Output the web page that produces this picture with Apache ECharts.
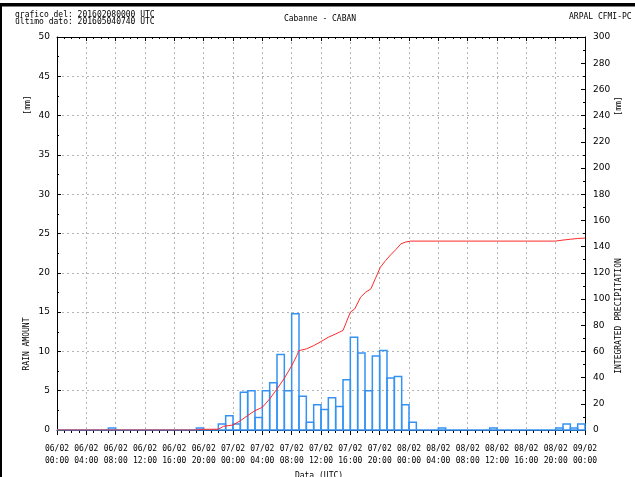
<!DOCTYPE html>
<html>
<head>
<meta charset="utf-8">
<script src="https://cdn.jsdelivr.net/npm/echarts@6/dist/echarts.min.js"></script>
<style>
html, body { margin: 0; padding: 0; background: #fff; }
#chart { width: 635px; height: 477px; }
</style>
</head>
<body>
<div id="chart"></div>
<script>
// hourly rain (mm), one value per hour starting 06/02 00:00
var rain = [
    0, 0, 0, 0, 0, 0, 0, 0.25, 0, 0, 0, 0,
    0, 0, 0, 0, 0, 0, 0, 0.25, 0, 0, 0.75, 1.8,
    0.75, 4.8, 5.0, 1.6, 5.0, 6.0, 9.6, 5.0, 14.8, 4.3, 1.0, 3.2,
    2.6, 4.1, 3.0, 6.4, 11.8, 9.8, 5.0, 9.4, 10.1, 6.6, 6.8, 3.2,
    1.0, 0, 0, 0, 0.25, 0, 0, 0, 0, 0, 0, 0.25,
    0, 0, 0, 0, 0, 0, 0, 0, 0.25, 0.75, 0.25, 0.75
];

// integrated precipitation (hour, mm)
var cumHours = [0, 19, 19.5, 22, 22.7, 24, 25, 26, 27, 28, 29, 30, 31, 32, 32.7, 33, 34, 35, 36, 37, 38, 39, 40,
    40.6, 41.4, 42.1, 42.8, 43.4, 44.1, 44.8, 45.5, 46.2, 46.9, 47.5, 48.2, 68, 69, 70, 71, 72];
var cumValues = [0, 0, 0.5, 0.6, 2.8, 3.8, 7.1, 11, 14.8, 17.3, 23.7, 31.3, 39.5, 49, 56.8, 60.6, 61.9, 64.4, 67.5, 70.8, 73.3, 76, 89.9,
    92.4, 101.4, 105.2, 107.7, 115.4, 124.3, 129.3, 133.7, 137.7, 142.1, 143.4, 144.2, 144.2, 145, 145.6, 146.2, 146.5];

var tickLabels = [
    '06/02\n00:00', '06/02\n04:00', '06/02\n08:00', '06/02\n12:00', '06/02\n16:00', '06/02\n20:00',
    '07/02\n00:00', '07/02\n04:00', '07/02\n08:00', '07/02\n12:00', '07/02\n16:00', '07/02\n20:00',
    '08/02\n00:00', '08/02\n04:00', '08/02\n08:00', '08/02\n12:00', '08/02\n16:00', '08/02\n20:00',
    '09/02\n00:00'
];

var mono = 'DejaVu Sans Mono';
var chart = echarts.init(document.getElementById('chart'));

var dotted = {show: true, lineStyle: {color: '#b4b4b4', type: [2, 3], width: 1}};

// hollow hourly bar from h to h+1
function renderBar(params, api) {
    var h = api.value(0);
    var p0 = api.coord([h, 0]);
    var p1 = api.coord([h + 1, api.value(1)]);
    return {
        type: 'rect',
        shape: {x: p0[0], y: p1[1], width: p1[0] - p0[0], height: p0[1] - p1[1]},
        style: {fill: 'none', stroke: '#3592f2', lineWidth: 1.5}
    };
}

chart.setOption({
    animation: false,
    backgroundColor: '#fff',
    grid: {left: 57, right: 50, top: 37, bottom: 47},
    graphic: [
        {type: 'rect', shape: {x: 0, y: 3, width: 635, height: 3.5}, style: {fill: '#000'}},
        {type: 'rect', shape: {x: 0, y: 3, width: 2, height: 474}, style: {fill: '#000'}},
        {type: 'text', left: 15, top: 11, style: {text: 'grafico del: 201602080000 UTC\nultimo dato: 201605040740 UTC', font: '8px ' + mono, lineHeight: 7, fill: '#000'}},
        {type: 'text', x: 320, y: 19, style: {text: 'Cabanne - CABAN', font: '8px ' + mono, fill: '#000', align: 'center', verticalAlign: 'middle'}},
        {type: 'text', x: 569, y: 17, style: {text: 'ARPAL CFMI-PC', font: '8px ' + mono, fill: '#000', verticalAlign: 'middle'}},
        {type: 'text', x: 28, y: 105, rotation: Math.PI / 2, style: {text: '[mm]', font: '8px ' + mono, fill: '#000', align: 'center', verticalAlign: 'middle'}},
        {type: 'text', x: 27, y: 344, rotation: Math.PI / 2, style: {text: 'RAIN AMOUNT', font: '8px ' + mono, fill: '#000', align: 'center', verticalAlign: 'middle'}},
        {type: 'text', x: 619, y: 106, rotation: Math.PI / 2, style: {text: '[mm]', font: '8px ' + mono, fill: '#000', align: 'center', verticalAlign: 'middle'}},
        {type: 'text', x: 619, y: 316, rotation: Math.PI / 2, style: {text: 'INTEGRATED PRECIPITATION', font: '8px ' + mono, fill: '#000', align: 'center', verticalAlign: 'middle'}},
        {type: 'text', x: 319, y: 472, style: {text: 'Data (UTC)', font: '8px ' + mono, fill: '#000', align: 'center', verticalAlign: 'top'}}
    ],
    xAxis: [
        {
            type: 'value',
            min: 0,
            max: 72,
            interval: 4,
            position: 'bottom',
            axisLine: {show: true, onZero: false, lineStyle: {color: '#000', width: 1}},
            axisTick: {show: true, length: 5, lineStyle: {color: '#000'}},
            minorTick: {show: true, splitNumber: 4, length: 3, lineStyle: {color: '#000'}},
            axisLabel: {
                color: '#000',
                fontFamily: mono,
                fontSize: 8,
                lineHeight: 12,
                margin: 13,
                formatter: function(v) { return tickLabels[Math.round(v / 4)]; }
            },
            splitLine: dotted
        },
        {
            type: 'value',
            min: 0,
            max: 72,
            interval: 4,
            position: 'top',
            axisLine: {show: true, onZero: false, lineStyle: {color: '#000', width: 1}},
            axisTick: {show: true, inside: true, length: 4, lineStyle: {color: '#000'}},
            minorTick: {show: true, splitNumber: 4, length: 2, lineStyle: {color: '#000'}},
            axisLabel: {show: false},
            splitLine: {show: false}
        }
    ],
    yAxis: [
        {
            type: 'value',
            min: 0,
            max: 50,
            interval: 5,
            position: 'left',
            axisLine: {show: true, onZero: false, lineStyle: {color: '#000', width: 1}},
            axisTick: {show: true, inside: true, length: 4, lineStyle: {color: '#000'}},
            minorTick: {show: true, splitNumber: 2, length: 2, lineStyle: {color: '#000'}},
            axisLabel: {color: '#000', fontFamily: 'DejaVu Sans', fontSize: 9, margin: 7},
            splitLine: dotted
        },
        {
            type: 'value',
            min: 0,
            max: 300,
            interval: 20,
            position: 'right',
            axisLine: {show: true, onZero: false, lineStyle: {color: '#000', width: 1}},
            axisTick: {show: true, inside: true, length: 4, lineStyle: {color: '#000'}},
            minorTick: {show: true, splitNumber: 2, length: 2, lineStyle: {color: '#000'}},
            axisLabel: {color: '#000', fontFamily: 'DejaVu Sans', fontSize: 9, margin: 8},
            splitLine: {show: false}
        }
    ],
    series: [
        {
            type: 'custom',
            xAxisIndex: 0,
            yAxisIndex: 0,
            renderItem: renderBar,
            encode: {x: 0, y: 1},
            data: rain.map(function(v, i) { return [i, v]; }),
            z: 3
        },
        {
            type: 'line',
            xAxisIndex: 0,
            yAxisIndex: 1,
            showSymbol: false,
            data: cumHours.map(function(h, i) { return [h, cumValues[i]]; }),
            lineStyle: {color: '#ff2a2a', width: 1},
            z: 4
        }
    ]
});
</script>
</body>
</html>
